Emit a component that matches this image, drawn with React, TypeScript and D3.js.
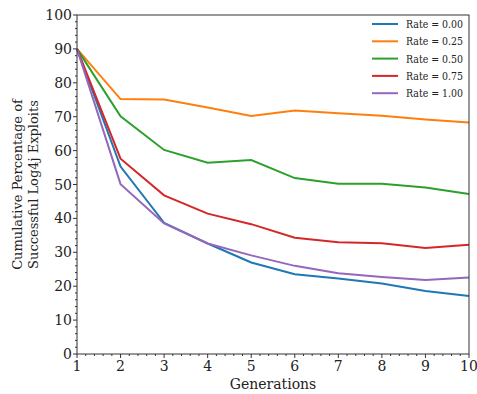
import React from "react";
import * as d3 from "d3";

const generations = [1, 2, 3, 4, 5, 6, 7, 8, 9, 10];
const rate000 = [90, 55.3, 38.7, 32.6, 27.0, 23.5, 22.3, 20.8, 18.6, 17.1];
const rate025 = [90, 75.2, 75.1, 72.7, 70.2, 71.8, 71.0, 70.3, 69.2, 68.3];
const rate050 = [90, 70.1, 60.2, 56.4, 57.2, 51.9, 50.2, 50.2, 49.1, 47.2];
const rate075 = [90, 57.6, 46.8, 41.4, 38.3, 34.3, 33.0, 32.7, 31.3, 32.2];
const rate100 = [90, 50.1, 38.5, 32.6, 29.1, 26.0, 23.8, 22.7, 21.8, 22.6];
const seriesNames = ["Rate = 0.00", "Rate = 0.25", "Rate = 0.50", "Rate = 0.75", "Rate = 1.00"];
const seriesColors = ["#1f77b4", "#ff7f0e", "#2ca02c", "#d62728", "#9467bd"];
const yTicks = [0, 10, 20, 30, 40, 50, 60, 70, 80, 90, 100];

const W = 477, H = 394;
const L = 77, R = 469, T = 15, B = 354;
const textStyle: React.CSSProperties = { fontFamily: "DejaVu Serif, serif" };

export default function App() {
  const x = d3.scaleLinear().domain([1, 10]).range([L, R]);
  const y = d3.scaleLinear().domain([0, 100]).range([B, T]);
  const series = [rate000, rate025, rate050, rate075, rate100];
  const line = d3.line<number>().x((_, i) => x(generations[i])).y((d) => y(d));
  const xMinor = d3.range(1, 10.001, 0.2).filter((v) => Math.abs(v - Math.round(v)) > 1e-6);
  const yMinor = d3.range(0, 100.001, 2).filter((v) => v % 10 !== 0);

  return (
    <svg width={W} height={H} style={{ position: "absolute", left: 0, top: 0, background: "#fff" }}>
      <g>
        {series.map((s, i) => (
          <path key={i} d={line(s) || ""} fill="none" stroke={seriesColors[i]} strokeWidth={2} />
        ))}
      </g>
      <rect x={L} y={T} width={R - L} height={B - T} fill="none" stroke="#333" strokeWidth={1} />
      <g style={textStyle} fill="#222">
        {generations.map((g) => (
          <g key={"xt" + g}>
            <line x1={x(g)} x2={x(g)} y1={B} y2={B + 4} stroke="#333" />
            <text x={x(g)} y={B + 17} textAnchor="middle" fontSize={14}>
              {g}
            </text>
          </g>
        ))}
        {xMinor.map((v, i) => (
          <line key={"xm" + i} x1={x(v)} x2={x(v)} y1={B} y2={B + 2} stroke="#333" />
        ))}
        {yTicks.map((v) => (
          <g key={"yt" + v}>
            <line x1={L - 4} x2={L} y1={y(v)} y2={y(v)} stroke="#333" />
            <text x={L - 5} y={y(v) + 5} textAnchor="end" fontSize={14}>
              {v}
            </text>
          </g>
        ))}
        {yMinor.map((v, i) => (
          <line key={"ym" + i} x1={L - 2} x2={L} y1={y(v)} y2={y(v)} stroke="#333" />
        ))}
        <text x={(L + R) / 2} y={389} textAnchor="middle" fontSize={14}>
          Generations
        </text>
        <g transform={`translate(22, ${(T + B) / 2}) rotate(-90)`}>
          <text x={0} y={0} textAnchor="middle" fontSize={13}>
            Cumulative Percentage of
          </text>
          <text x={0} y={16} textAnchor="middle" fontSize={13}>
            Successful Log4j Exploits
          </text>
        </g>
        {seriesNames.map((n, i) => (
          <g key={"lg" + i} transform={`translate(0, ${24 + i * 17.3})`}>
            <line x1={372} x2={398} y1={0} y2={0} stroke={seriesColors[i]} strokeWidth={2} />
            <text x={406} y={4} fontSize={11.5} textLength={57} lengthAdjust="spacingAndGlyphs">
              {n}
            </text>
          </g>
        ))}
      </g>
    </svg>
  );
}
